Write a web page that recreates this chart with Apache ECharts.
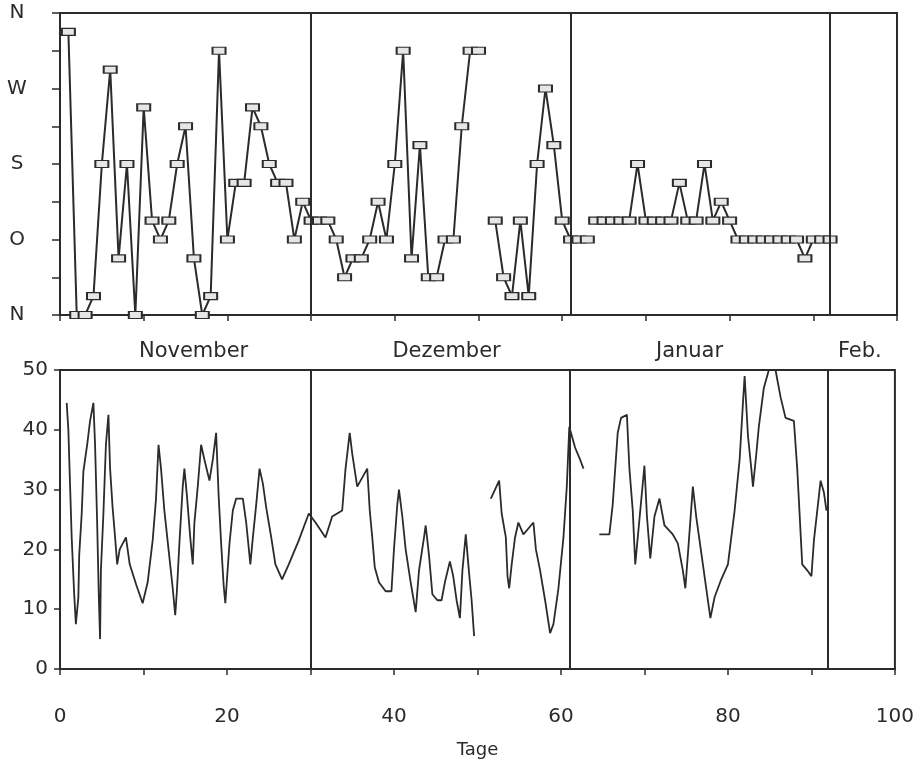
<!DOCTYPE html>
<html lang="de">
<head>
    <meta charset="UTF-8">
    <title>Wind</title>
    <style>
        body { margin: 0; background: #fff; }
    </style>
</head>
<body>
<div id="chart-wrap" style="width: 917px;height: 760px;"></div>
<script src="https://cdn.jsdelivr.net/npm/echarts@6/dist/echarts.min.js"></script>
<script>
    // Windrichtung (0 = N, 2 = O, 4 = S, 6 = W, 8 = N), ein Wert pro Tag
    var dirDays = [1, 2, 3, 4, 5, 6, 7, 8, 9, 10, 11, 12, 13, 14, 15, 16, 17, 18, 19, 20,
        21, 22, 23, 24, 25, 26, 27, 28, 29, 30, 31, 32, 33, 34, 35, 36, 37, 38, 39, 40,
        41, 42, 43, 44, 45, 46, 47, 48, 49, 50, 51, 52, 53, 54, 55, 56, 57, 58, 59, 60,
        61, 62, 63, 63.5, 64, 65, 66, 67, 68, 69, 70, 71, 72, 73, 74, 75, 76, 77, 78, 79, 80,
        81, 82, 83, 84, 85, 86, 87, 88, 89, 90, 91, 92];
    var dirValues = [7.5, 0, 0, 0.5, 4, 6.5, 1.5, 4, 0, 5.5, 2.5, 2, 2.5, 4, 5, 1.5, 0, 0.5, 7, 2,
        3.5, 3.5, 5.5, 5, 4, 3.5, 3.5, 2, 3, 2.5, 2.5, 2.5, 2, 1, 1.5, 1.5, 2, 3, 2, 4,
        7, 1.5, 4.5, 1, 1, 2, 2, 5, 7, 7, null, 2.5, 1, 0.5, 2.5, 0.5, 4, 6, 4.5, 2.5,
        2, 2, 2, null, 2.5, 2.5, 2.5, 2.5, 2.5, 4, 2.5, 2.5, 2.5, 2.5, 3.5, 2.5, 2.5, 4, 2.5, 3, 2.5,
        2, 2, 2, 2, 2, 2, 2, 2, 1.5, 2, 2, 2];
    var dirLabels = ['N', '', 'O', '', 'S', '', 'W', '', 'N'];

    // Windgeschwindigkeit
    var speedDays = [0.8, 1.0, 1.2, 1.4, 1.7, 1.9, 2.2, 2.3, 2.6, 2.8, 3.3, 3.6, 4.0, 4.2, 4.45, 4.65, 4.8, 4.9,
        5.2, 5.5, 5.8, 6.0, 6.3, 6.6, 6.85, 7.15, 7.9, 8.35, 9.15, 9.9, 10.5, 11.1, 11.5, 11.8, 12.1, 12.5,
        13.0, 13.5, 13.8, 14.0, 14.3, 14.7, 14.9, 15.2, 15.6, 15.9, 16.1, 16.5, 16.9, 17.3, 17.9, 18.3, 18.7,
        19.0, 19.3, 19.6, 19.8, 20.3, 20.7, 21.1, 21.9, 22.3, 22.8, 23.1, 23.5, 23.9, 24.3, 24.7, 25.3, 25.8,
        26.6, 27.4, 28.6, 29.8, 30.6, 31.8, 32.6, 33.8, 34.2, 34.7, 35.0, 35.6, 36.2, 36.8, 37.1, 37.4, 37.7,
        38.2, 39.0, 39.7, 40.0, 40.4, 40.6, 41.0, 41.4, 42.0, 42.6, 43.0, 43.6, 43.8, 44.2, 44.6, 45.2, 45.7,
        46.1, 46.7, 47.1, 47.5, 47.9, 48.2, 48.6, 49.0, 49.3, 49.6, 50.6,
        51.6, 52.1, 52.6, 52.9, 53.4, 53.6, 53.8, 54.1, 54.5, 54.9, 55.5, 56.1, 56.7, 57.0, 57.5, 58.1, 58.7,
        59.1, 59.7, 60.3, 60.7, 61.0, 61.7, 62.3, 62.7, 63.6,
        64.6, 65.8, 66.2, 66.8, 67.2, 67.9, 68.2, 68.6, 68.9, 69.3, 69.8, 70.0, 70.3, 70.7, 71.2, 71.8, 72.4,
        73.4, 74.0, 74.6, 74.9, 75.3, 75.8, 76.2, 76.8, 77.3, 77.9, 78.4, 79.2, 80.0, 80.8, 81.4, 81.8, 82.0,
        82.4, 82.8, 83.0, 83.4, 83.7, 84.3, 84.9, 85.7, 86.3, 86.9, 87.9, 88.3, 88.9, 89.5, 90.0, 90.3, 90.9,
        91.1, 91.5, 91.8];
    var speedValues = [44.5, 40, 31, 22, 12.5, 7.5, 12, 19, 26, 33, 38, 41.5, 44.5, 37.5, 24.5, 12, 5, 16.5,
        26, 37.5, 42.5, 33.5, 27, 22, 17.5, 20, 22, 17.5, 14, 11, 14.5, 21.5, 28.5, 37.5, 33.5, 26.5,
        20, 13.5, 9, 13, 21, 30.5, 33.5, 29, 22, 17.5, 24.5, 30.5, 37.5, 35, 31.5, 35, 39.5,
        29, 21, 14, 11, 21, 26.5, 28.5, 28.5, 24.5, 17.5, 22, 27.5, 33.5, 31, 27, 22, 17.5,
        15, 17.5, 21.5, 26, 24.5, 22, 25.5, 26.5, 33.5, 39.5, 36, 30.5, 32, 33.5, 26.5, 22, 17,
        14.5, 13, 13, 20, 27.5, 30, 25.5, 20, 14.5, 9.5, 16.5, 22, 24, 19, 12.5, 11.5, 11.5,
        14.5, 18, 15.5, 11.5, 8.5, 16.5, 22.5, 16, 11.5, 5.5, null,
        28.5, 30, 31.5, 26, 22, 15.5, 13.5, 17.5, 22, 24.5, 22.5, 23.5, 24.5, 20, 16.5, 11.5, 6,
        7.5, 13.5, 22, 30.5, 40.5, 37, 35, 33.5, null,
        22.5, 22.5, 27.5, 39.5, 42, 42.5, 33.5, 26.5, 17.5, 23.5, 31, 34, 25.5, 18.5, 25.5, 28.5, 24,
        22.5, 21, 16.5, 13.5, 21, 30.5, 25.5, 19.5, 14.5, 8.5, 12, 15, 17.5, 26.5, 35, 44.5, 49,
        39, 33.5, 30.5, 36, 40.5, 47, 50, 50, 45.5, 42, 41.5, 33.5, 17.5, 16.5, 15.5, 21.5, 29,
        31.5, 29.5, 26.5];

    var monthEnds = [30, 61, 92];
    var monthNames = ['November', 'Dezember', 'Januar', 'Feb.'];
    var monthCenters = [16, 46.3, 75.4, 95.8];

    var ink = '#2b2b2b';
    var font = 'DejaVu Sans';

    function pairs(xs, ys) {
        return xs.map(function (x, i) {
            return [x, ys[i] === null ? '-' : ys[i]];
        });
    }

    var monthLines = {
        silent: true,
        symbol: 'none',
        label: {show: false},
        lineStyle: {color: ink, type: 'solid', width: 2},
        data: monthEnds.map(function (d) { return {xAxis: d}; })
    };

    var chart = echarts.init(document.getElementById('chart-wrap'));

    var xBase = {
        type: 'value',
        min: 0,
        max: 100,
        interval: 10,
        splitLine: {show: false},
        axisLine: {lineStyle: {color: ink, width: 2}},
        axisTick: {length: 6, lineStyle: {color: ink, width: 1.5}}
    };

    var option = {
        backgroundColor: '#fff',
        animation: false,
        textStyle: {fontFamily: font},
        grid: [
            {left: 60, top: 13, right: 20, height: 302, show: true, borderColor: ink, borderWidth: 2},
            {left: 60, top: 370, right: 20, height: 303, show: true, borderColor: ink, borderWidth: 2}
        ],
        xAxis: [
            Object.assign({}, xBase, {gridIndex: 0, axisLabel: {show: false}}),
            Object.assign({}, xBase, {
                gridIndex: 1,
                name: 'Tage',
                nameLocation: 'middle',
                nameGap: 72,
                nameTextStyle: {color: ink, fontSize: 18, fontFamily: font},
                axisLabel: {
                    color: ink, fontSize: 20, fontFamily: font, margin: 38,
                    formatter: function (v) { return v % 20 === 0 ? v : ''; }
                }
            })
        ],
        yAxis: [
            {
                type: 'value', gridIndex: 0, min: 0, max: 8, interval: 1,
                splitLine: {show: false},
                axisLine: {lineStyle: {color: ink, width: 2}},
                axisTick: {length: 8, lineStyle: {color: ink, width: 1.5}},
                axisLabel: {
                    color: ink, fontSize: 20, fontFamily: font, margin: 43, align: 'center',
                    formatter: function (v) { return dirLabels[v]; }
                }
            },
            {
                type: 'value', gridIndex: 1, min: 0, max: 50, interval: 10,
                splitLine: {show: false},
                axisLine: {lineStyle: {color: ink, width: 2}},
                axisTick: {length: 6, lineStyle: {color: ink, width: 1.5}},
                axisLabel: {color: ink, fontSize: 20, fontFamily: font, margin: 12}
            }
        ],
        series: [
            {
                type: 'line',
                xAxisIndex: 0,
                yAxisIndex: 0,
                data: pairs(dirDays, dirValues),
                symbol: 'rect',
                symbolSize: [13, 7],
                showAllSymbol: true,
                lineStyle: {color: ink, width: 2},
                itemStyle: {color: '#e6e6e6', borderColor: ink, borderWidth: 1.5},
                markLine: monthLines
            },
            {
                type: 'line',
                xAxisIndex: 1,
                yAxisIndex: 1,
                data: pairs(speedDays, speedValues),
                showSymbol: false,
                lineStyle: {color: ink, width: 1.8},
                markLine: monthLines
            }
        ]
    };

    chart.setOption(option);

    // Monatsnamen zwischen den beiden Diagrammen
    var topY = chart.convertToPixel({gridIndex: 1}, [0, 50])[1];
    chart.setOption({
        graphic: monthNames.map(function (name, i) {
            var px = chart.convertToPixel({gridIndex: 1}, [monthCenters[i], 50])[0];
            return {
                type: 'text',
                x: px,
                y: topY - 18,
                style: {
                    text: name,
                    fill: ink,
                    font: '21px "' + font + '"',
                    align: 'center',
                    verticalAlign: 'middle'
                }
            };
        })
    });
</script>
</body>
</html>
